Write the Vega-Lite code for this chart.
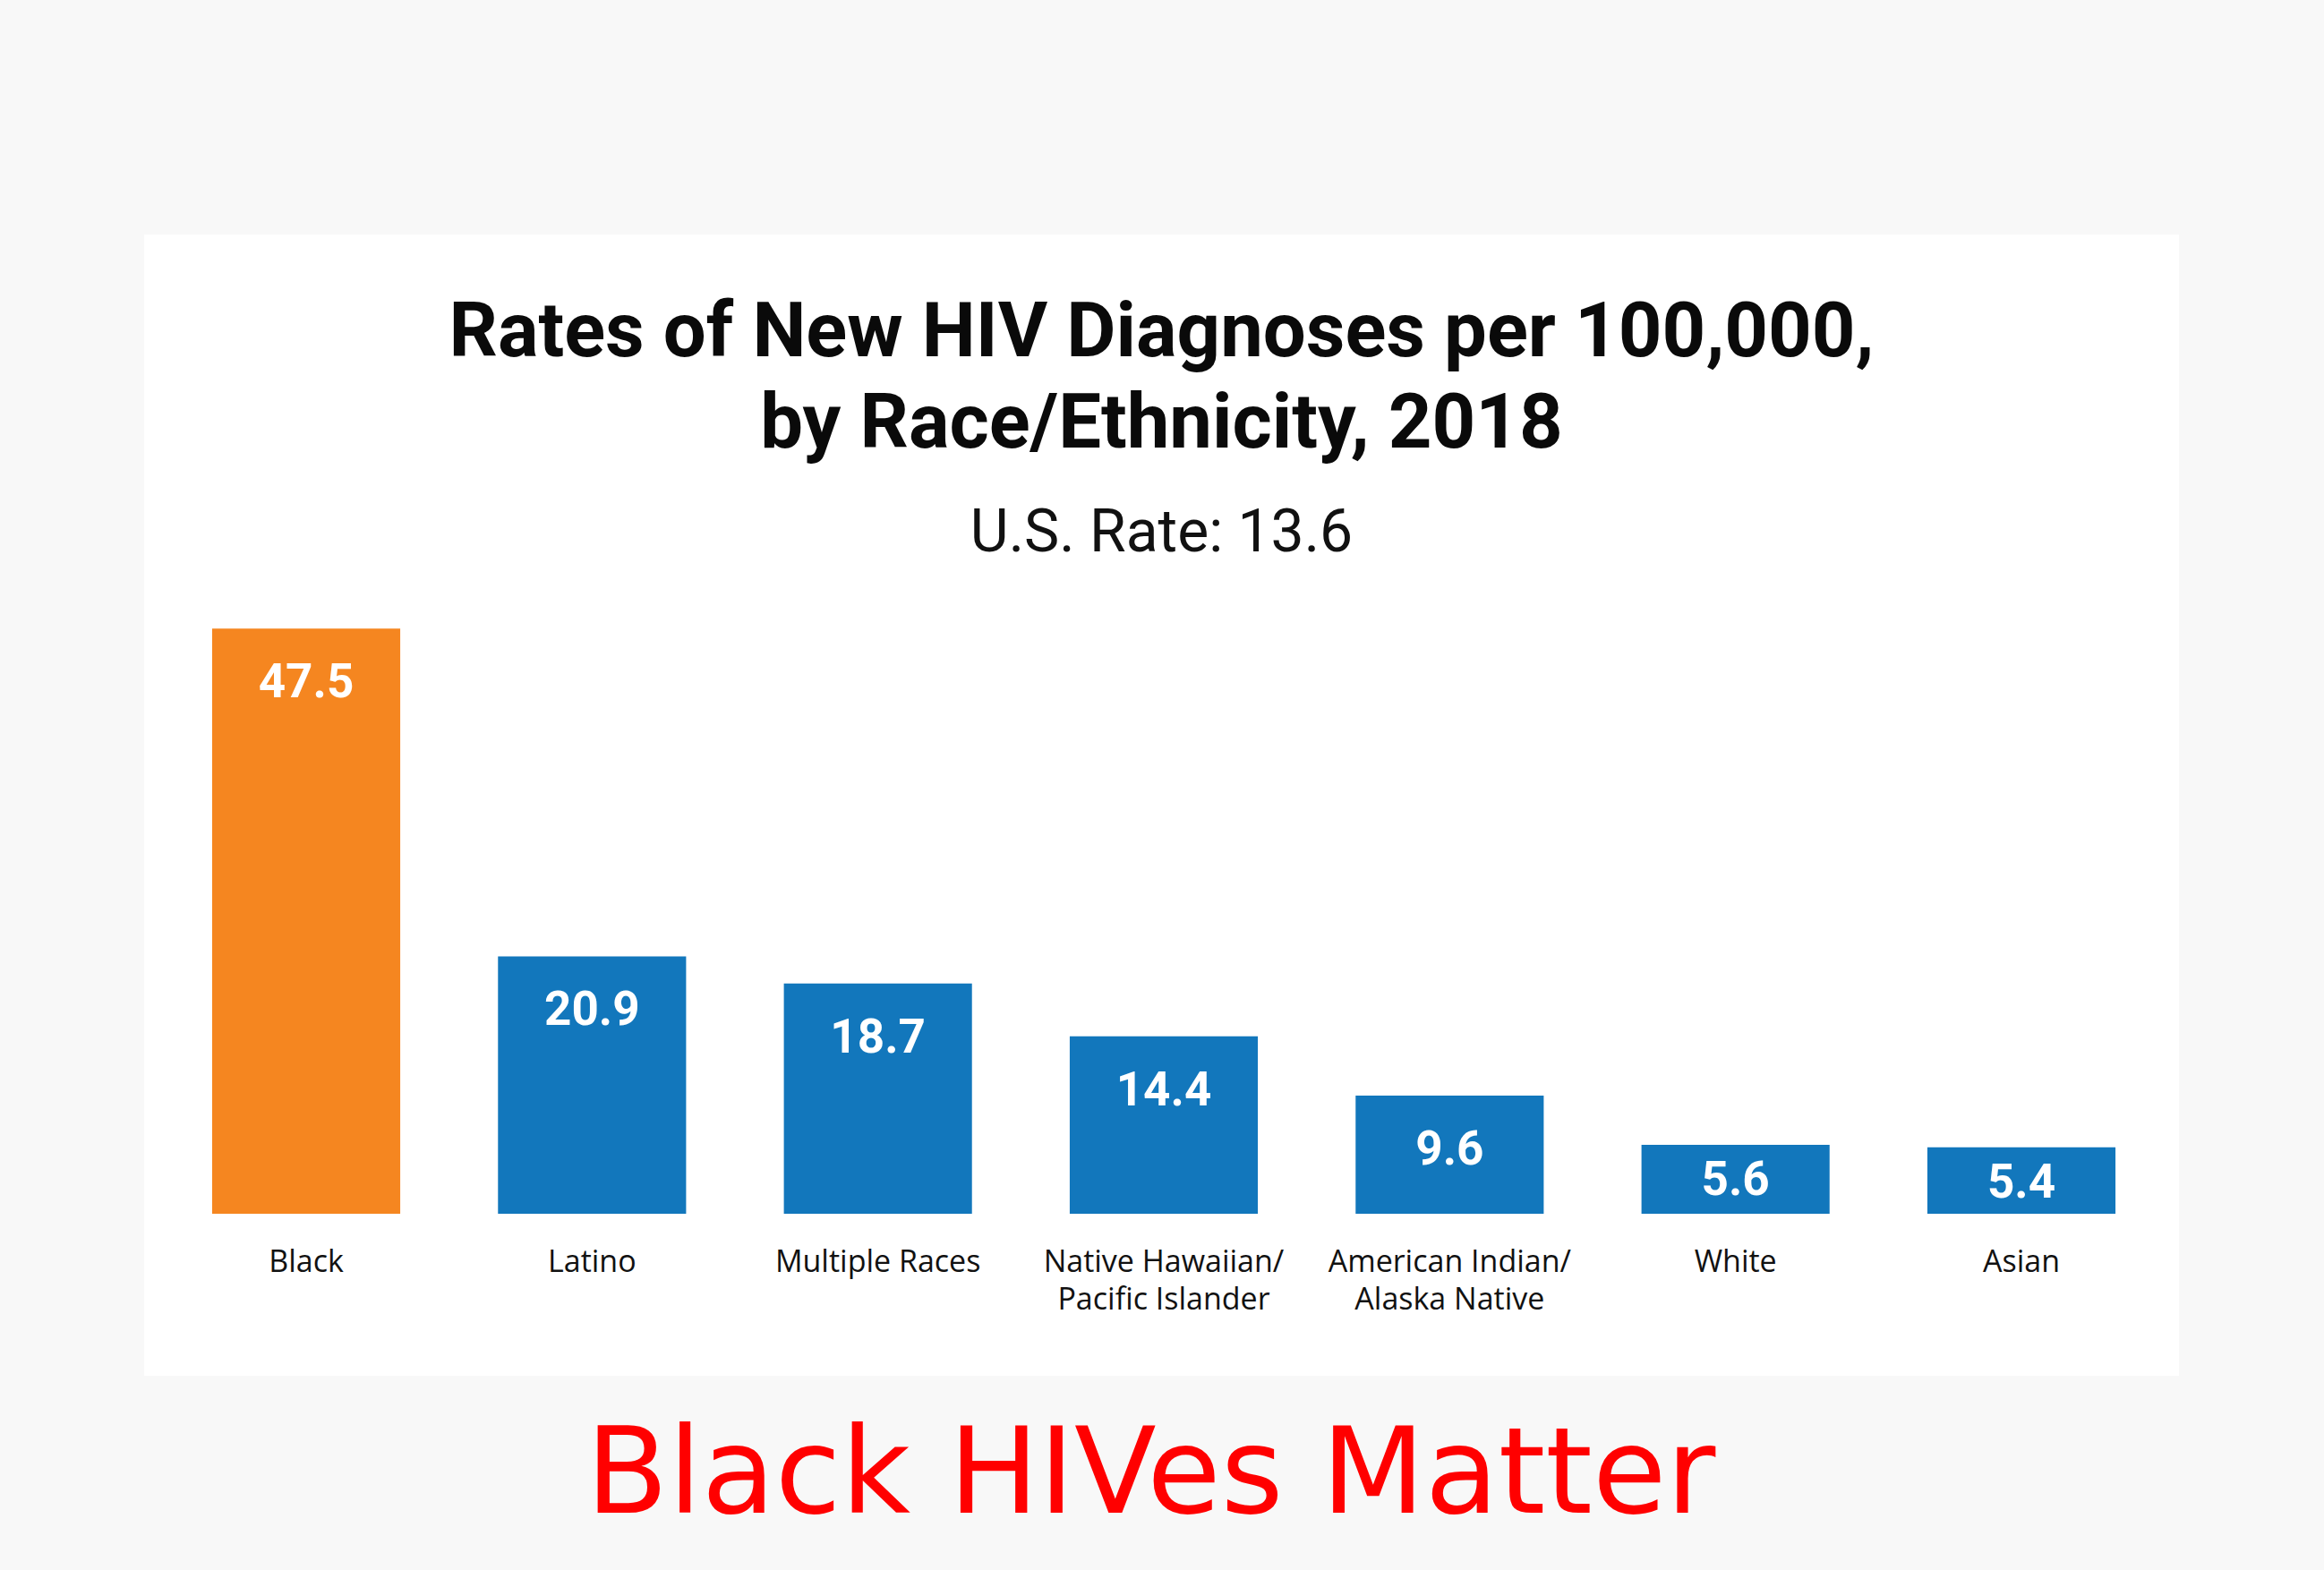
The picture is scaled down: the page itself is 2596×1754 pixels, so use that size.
{
  "$schema": "https://vega.github.io/schema/vega-lite/v6.json",
  "autosize": {"type": "none"},
  "padding": {"left": 161, "top": 262, "right": 162, "bottom": 217},
  "width": 2273,
  "height": 1275,
  "background": "#f8f8f8",
  "view": {"fill": "#ffffff", "stroke": null},
  "title": {
    "text": ["Rates of New HIV Diagnoses per 100,000,", "by Race/Ethnicity, 2018"],
    "subtitle": "U.S. Rate: 13.6",
    "anchor": "middle",
    "frame": "group",
    "orient": "top",
    "offset": -368,
    "font": "Roboto",
    "fontSize": 85,
    "fontWeight": "bold",
    "color": "#0a0a0a",
    "lineHeight": 102,
    "subtitleFont": "Roboto",
    "subtitleFontSize": 66,
    "subtitleFontWeight": "normal",
    "subtitleColor": "#111111",
    "subtitlePadding": 46
  },
  "data": {
    "values": [
      {"race": "Black", "rate": 47.5},
      {"race": "Latino", "rate": 20.9},
      {"race": "Multiple Races", "rate": 18.7},
      {"race": "Native Hawaiian/Pacific Islander", "rate": 14.4},
      {"race": "American Indian/Alaska Native", "rate": 9.6},
      {"race": "White", "rate": 5.6},
      {"race": "Asian", "rate": 5.4}
    ]
  },
  "encoding": {
    "x": {
      "field": "race",
      "type": "nominal",
      "sort": null,
      "scale": {"paddingInner": 0.342, "paddingOuter": 0.23, "align": 0.517},
      "axis": {
        "title": "Black HIVes Matter",
        "orient": "bottom",
        "offset": -181,
        "domain": false,
        "ticks": false,
        "grid": false,
        "labelAngle": 0,
        "labelFont": "Open Sans",
        "labelFontSize": 34,
        "labelColor": "#111111",
        "labelPadding": 37,
        "labelLineHeight": 42,
        "labelLimit": 600,
        "labelExpr": "indexof(datum.label, '/') > 0 ? [slice(datum.label, 0, indexof(datum.label, '/') + 1), slice(datum.label, indexof(datum.label, '/') + 1)] : datum.label",
        "titleFont": "DejaVu Sans",
        "titleFontSize": 134,
        "titleFontWeight": "normal",
        "titleColor": "#ff0000",
        "titlePadding": 114,
        "titleX": 1124
      }
    }
  },
  "layer": [
    {
      "mark": {"type": "bar"},
      "encoding": {
        "y": {
          "field": "rate",
          "type": "quantitative",
          "scale": {"domain": [-13.15, 79.5], "nice": false, "zero": false},
          "axis": null
        },
        "y2": {"datum": 0},
        "color": {
          "condition": {"test": "datum.race === 'Black'", "value": "#f58620"},
          "value": "#1277bc"
        }
      }
    },
    {
      "transform": [{"filter": "datum.rate >= 8"}],
      "mark": {"type": "text", "dy": 61, "baseline": "middle", "align": "center", "font": "Roboto", "fontWeight": "bold", "fontSize": 53, "color": "#ffffff"},
      "encoding": {
        "y": {"field": "rate", "type": "quantitative"},
        "text": {"field": "rate", "type": "quantitative", "format": ".1f"}
      }
    },
    {
      "transform": [{"filter": "datum.rate < 8"}],
      "mark": {"type": "text", "dy": 40, "baseline": "middle", "align": "center", "font": "Roboto", "fontWeight": "bold", "fontSize": 53, "color": "#ffffff"},
      "encoding": {
        "y": {"field": "rate", "type": "quantitative"},
        "text": {"field": "rate", "type": "quantitative", "format": ".1f"}
      }
    }
  ]
}
